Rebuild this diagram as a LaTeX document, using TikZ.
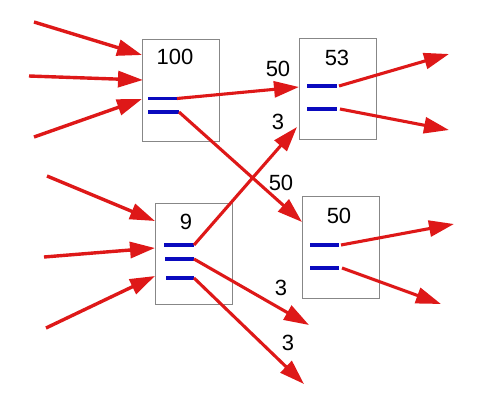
\documentclass[tikz,border=0pt]{standalone}
\usepackage{fontspec}
\setmainfont{Liberation Sans}
\usetikzlibrary{arrows.meta}
\definecolor{arrred}{RGB}{222,24,24}
\definecolor{barblue}{RGB}{10,10,190}
\definecolor{boxgray}{RGB}{135,135,135}
\begin{document}
\begin{tikzpicture}[x=1pt,y=-1pt,
  box/.style={draw=boxgray, line width=1pt, inner sep=0pt, anchor=north west},
  lbl/.style={font=\fontsize{22}{26}\selectfont, inner sep=0pt},
  bar/.style={draw=barblue, line width=3.2pt},
  arr/.style={draw=arrred, line width=3.4pt, -{Triangle[length=25pt,width=16pt]}},
  link/.style={draw=arrred, line width=3.1pt, -{Triangle[length=25pt,width=16pt]}}]
\useasboundingbox (0,0) rectangle (493,405);
% boxes
\node[box, minimum width=77pt, minimum height=102pt] (b100) at (142,39) {};
\node[box, minimum width=77pt, minimum height=101pt] (b53) at (299,38) {};
\node[box, minimum width=77pt, minimum height=101pt] (b9) at (155,203) {};
\node[box, minimum width=77pt, minimum height=102pt] (b50) at (302,196) {};
% box titles
\node[lbl] (t100) at (175,57) {100};
\node[lbl] (t53) at (337,58) {53};
\node[lbl] (t9) at (186,222) {9};
\node[lbl] (t50) at (339,216) {50};
% bar end points
\coordinate (a1l) at (148,98.5); \coordinate (a1r) at (177,98.5);
\coordinate (a2l) at (148,112); \coordinate (a2r) at (179,112);
\coordinate (c1l) at (307,86); \coordinate (c1r) at (337,86);
\coordinate (c2l) at (307,109); \coordinate (c2r) at (337,109);
\coordinate (n1l) at (164,245); \coordinate (n1r) at (194,245);
\coordinate (n2l) at (165,259); \coordinate (n2r) at (194,259);
\coordinate (n3l) at (166,278); \coordinate (n3r) at (194,278);
\coordinate (f1l) at (310,245); \coordinate (f1r) at (339,245);
\coordinate (f2l) at (310,268); \coordinate (f2r) at (339,268);
\draw[bar] (a1l) -- (a1r); \draw[bar] (a2l) -- (a2r);
\draw[bar] (c1l) -- (c1r); \draw[bar] (c2l) -- (c2r);
\draw[bar] (n1l) -- (n1r); \draw[bar] (n2l) -- (n2r); \draw[bar] (n3l) -- (n3r);
\draw[bar] (f1l) -- (f1r); \draw[bar] (f2l) -- (f2r);
% free ends and tips
\coordinate (i1) at (34,22);  \coordinate (i1t) at (142,55);
\coordinate (i2) at (29,76);  \coordinate (i2t) at (143,80);
\coordinate (i3) at (34,137); \coordinate (i3t) at (142,99);
\coordinate (j1) at (47,176); \coordinate (j1t) at (155,221);
\coordinate (j2) at (44,257); \coordinate (j2t) at (155,248);
\coordinate (j3) at (46,328); \coordinate (j3t) at (155,276);
\coordinate (c1t) at (299,87);
\coordinate (f1t) at (302,222);
\coordinate (c2t) at (297,127);
\coordinate (o1) at (309,325);
\coordinate (o2) at (304,384);
\coordinate (p1) at (449,54);
\coordinate (p2) at (449,130);
\coordinate (q1) at (454,224);
\coordinate (q2) at (441,304);
% incoming arrows
\draw[arr] (i1) -- (i1t);
\draw[arr] (i2) -- (i2t);
\draw[arr] (i3) -- (i3t);
\draw[arr] (j1) -- (j1t);
\draw[arr] (j2) -- (j2t);
\draw[arr] (j3) -- (j3t);
% links
\draw[link] (a1r) -- (c1t);
\draw[link] (a2r) -- (f1t);
\draw[link] (n1r) -- (c2t);
\draw[link] (n2r) -- (o1);
\draw[link] (n3r) -- (o2);
% outgoing
\draw[link] ([xshift=2pt]c1r) -- (p1);
\draw[link] ([xshift=3pt]c2r) -- (p2);
\draw[link] ([xshift=2pt]f1r) -- (q1);
\draw[link] ([xshift=3pt]f2r) -- (q2);
% link labels
\node[lbl] (l50a) at (278,69) {50};
\node[lbl] (l50b) at (281,183) {50};
\node[lbl] (l3a) at (278,122) {3};
\node[lbl] (l3b) at (281,288) {3};
\node[lbl] (l3c) at (288,343) {3};
\end{tikzpicture}
\end{document}
